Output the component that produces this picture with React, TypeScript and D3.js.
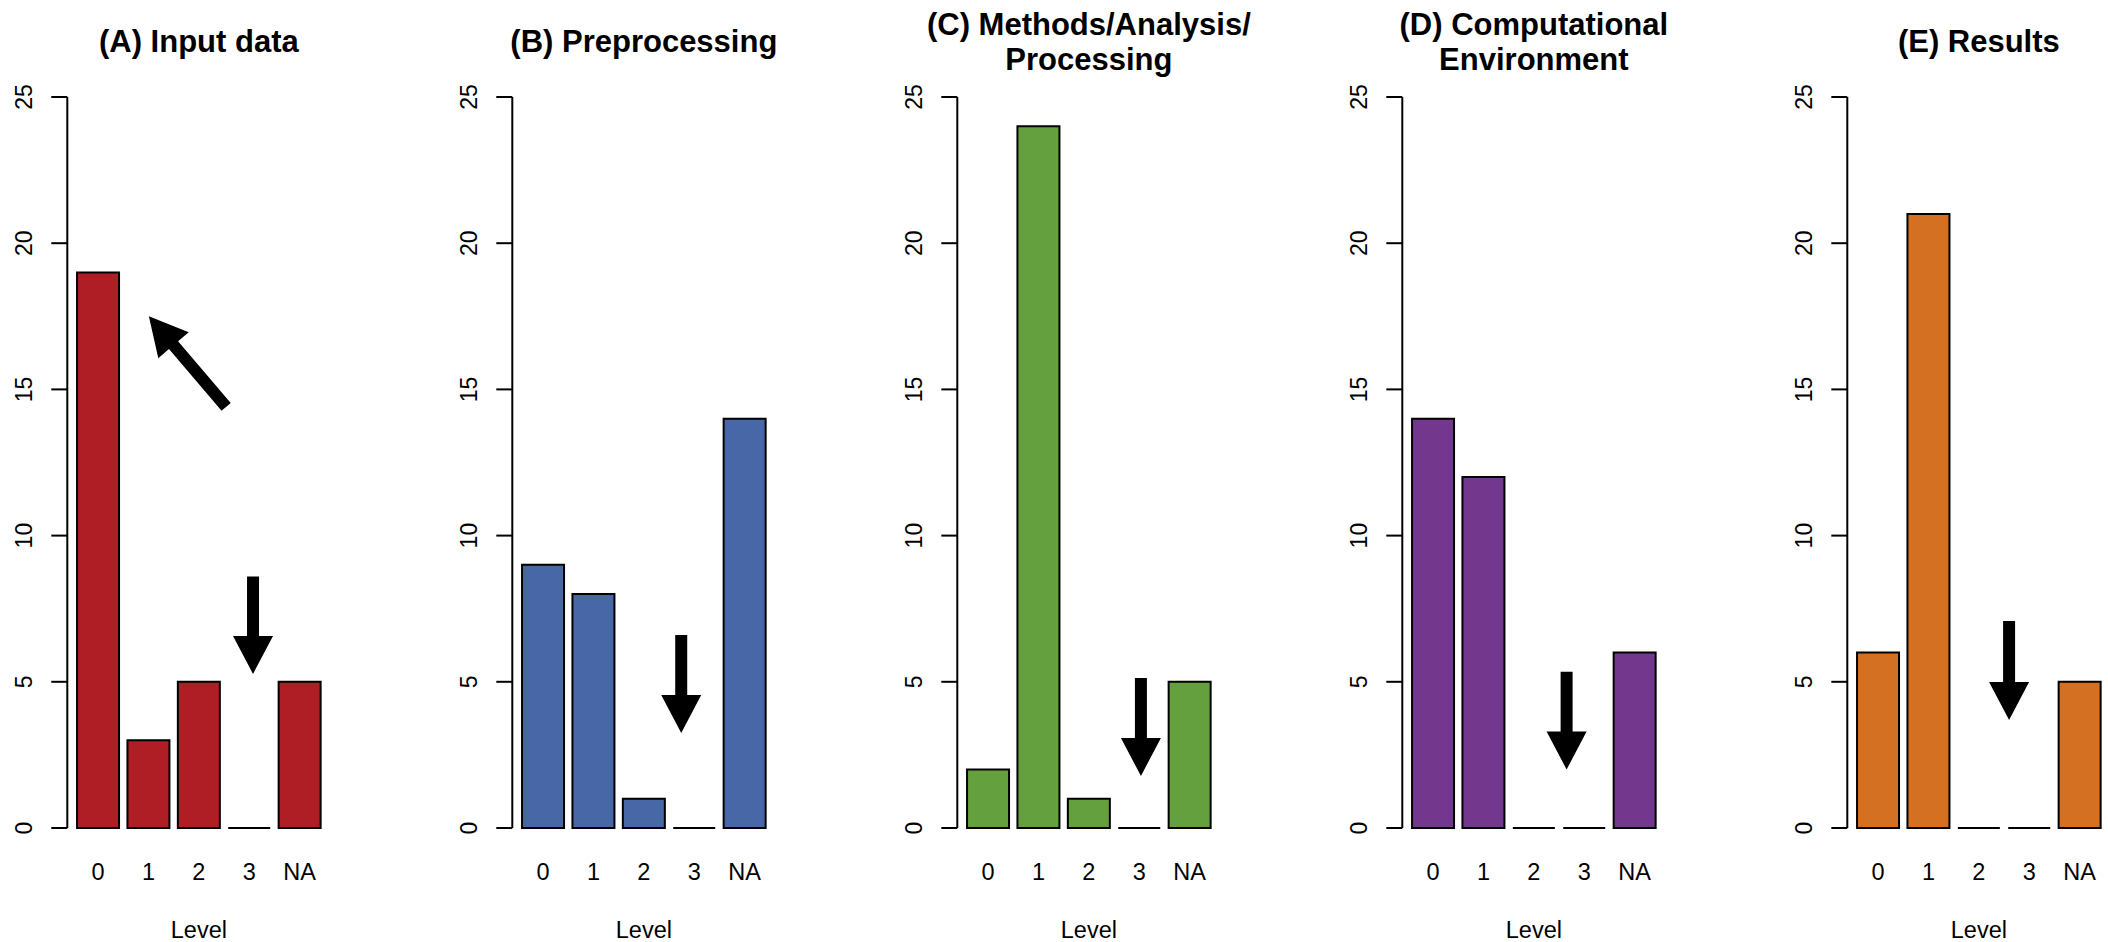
import * as d3 from "d3";

// five panels of counts per level
const levels = ["0", "1", "2", "3", "NA"];
const inputData = [19, 3, 5, 0, 5];
const preprocessing = [9, 8, 1, 0, 14];
const methods = [2, 24, 1, 0, 5];
const environment = [14, 12, 0, 0, 6];
const results = [6, 21, 0, 0, 5];

const panelValues = [inputData, preprocessing, methods, environment, results];
const panelTitles = [
  ["(A) Input data"],
  ["(B) Preprocessing"],
  ["(C) Methods/Analysis/", "Processing"],
  ["(D) Computational", "Environment"],
  ["(E) Results"],
];
const panelColors = ["#AE1E24", "#4767A7", "#64A03E", "#73388D", "#D47022"];
const yTicks = [0, 5, 10, 15, 20, 25];

// annotation arrows: panel, tail and tip in (bar units, count)
const arrowPanel = [0, 0, 1, 2, 3, 4];
const arrowTail = [[3.75, 14.4], [4.39, 8.6], [3.99, 6.6], [4.34, 5.13], [3.88, 5.34], [3.82, 7.08]];
const arrowTip = [[1.91, 17.5], [4.39, 5.27], [3.99, 3.25], [4.34, 1.78], [3.88, 2.0], [3.82, 3.69]];

const width = 2108;
const height = 942;
const panelStep = 445;
const unit = 42; // px per bar width
const firstAxis = 67.3;
const font = "'Liberation Sans', Arial, Helvetica, sans-serif";

const yScale = d3.scaleLinear().domain([0, 25]).range([828, 97]);

function arrowPath(t: number[], p: number[]) {
  const dx = p[0] - t[0];
  const dy = p[1] - t[1];
  const len = Math.sqrt(dx * dx + dy * dy);
  const ux = dx / len, uy = dy / len;
  const nx = -uy, ny = ux;
  const bx = p[0] - ux * 38, by = p[1] - uy * 38;
  const pts = [
    [t[0] + nx * 6, t[1] + ny * 6],
    [bx + nx * 6, by + ny * 6],
    [bx + nx * 20, by + ny * 20],
    [p[0], p[1]],
    [bx - nx * 20, by - ny * 20],
    [bx - nx * 6, by - ny * 6],
    [t[0] - nx * 6, t[1] - ny * 6],
  ];
  return d3.line()(pts as [number, number][]) + "Z";
}

function barPath(x0: number, w: number, y0: number, y1: number) {
  const p = d3.path();
  p.moveTo(x0, y0);
  p.lineTo(x0 + w, y0);
  p.lineTo(x0 + w, y1);
  p.lineTo(x0, y1);
  p.closePath();
  return p.toString();
}

function Panel({ index }: { index: number }) {
  const plotLeft = firstAxis + index * panelStep;
  const xu = d3
    .scaleLinear()
    .domain([-0.032, 6.232])
    .range([plotLeft, plotLeft + 6.264 * unit]);
  const x = d3
    .scaleBand()
    .domain(levels)
    .range([xu(0.2), xu(6.0)])
    .paddingInner(1 / 6)
    .paddingOuter(0);
  const values = panelValues[index];
  const title = panelTitles[index];
  const cx = (xu(-0.032) + xu(6.232)) / 2;

  return (
    <g>
      {title.map((t, k) => (
        <text
          key={k}
          x={cx}
          y={52 + (k - (title.length - 1) / 2) * 35}
          textAnchor="middle"
          fontWeight="bold"
          fontSize={31}
          fontFamily={font}
        >
          {t}
        </text>
      ))}
      {values.map((v, i) => (
        <path
          key={i}
          d={barPath(x(levels[i]) as number, x.bandwidth(), yScale(0), yScale(v))}
          fill={panelColors[index]}
          stroke="black"
          strokeWidth={2}
        />
      ))}
      <line x1={plotLeft} x2={plotLeft} y1={yScale(0)} y2={yScale(25)} stroke="black" strokeWidth={2} />
      {yTicks.map((t) => (
        <g key={t}>
          <line x1={plotLeft - 16} x2={plotLeft} y1={yScale(t)} y2={yScale(t)} stroke="black" strokeWidth={2} />
          <text
            transform={`translate(${plotLeft - 35},${yScale(t)}) rotate(-90)`}
            textAnchor="middle"
            fontSize={23}
            fontFamily={font}
          >
            {t}
          </text>
        </g>
      ))}
      {levels.map((l) => (
        <text
          key={l}
          x={(x(l) as number) + x.bandwidth() / 2}
          y={880}
          textAnchor="middle"
          fontSize={23.5}
          fontFamily={font}
        >
          {l}
        </text>
      ))}
      <text x={cx} y={938} textAnchor="middle" fontSize={23.5} fontFamily={font}>
        Level
      </text>
      {arrowPanel.map((p, a) =>
        p === index ? (
          <path
            key={a}
            d={arrowPath(
              [xu(arrowTail[a][0]), yScale(arrowTail[a][1])],
              [xu(arrowTip[a][0]), yScale(arrowTip[a][1])]
            )}
            fill="black"
          />
        ) : null
      )}
    </g>
  );
}

export default function App() {
  return (
    <svg
      width={width}
      height={height}
      style={{ position: "absolute", left: 0, top: 0, background: "white" }}
    >
      <rect width={width} height={height} fill="white" />
      {panelValues.map((_, i) => (
        <Panel key={i} index={i} />
      ))}
    </svg>
  );
}
